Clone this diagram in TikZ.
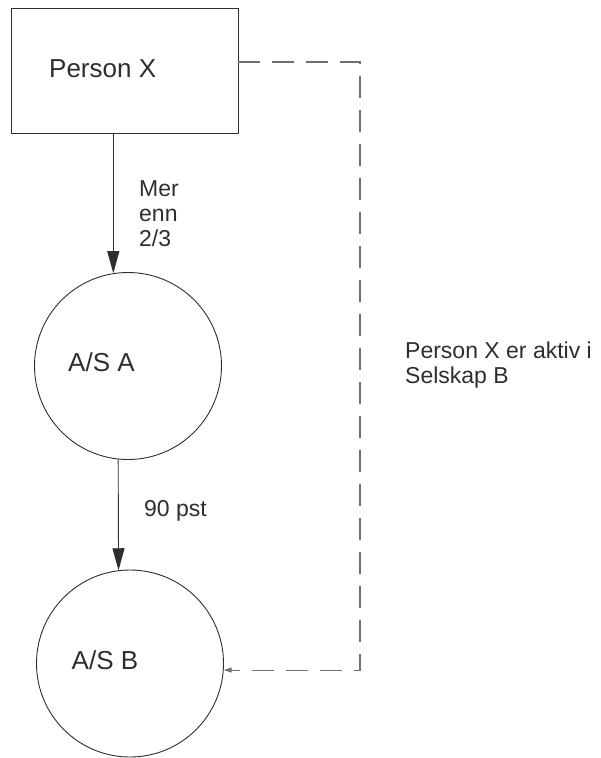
\documentclass[tikz,border=0pt]{standalone}
\usepackage{fontspec}
\setmainfont{Liberation Sans}
\usetikzlibrary{arrows.meta}
\definecolor{ink}{HTML}{2E2E2E}
\definecolor{dash}{HTML}{707070}
\tikzset{
  shapeline/.style={draw=ink, line width=0.9pt},
  ownerbox/.style={shapeline, rectangle, minimum width=227pt, minimum height=125pt, inner sep=0pt},
  company/.style={shapeline, circle, minimum size=187pt, inner sep=0pt},
  bigtext/.style={anchor=base west, inner sep=0pt, font=\fontsize{26}{30}\selectfont, text=ink},
  smalltext/.style={anchor=base west, inner sep=0pt, align=left, font=\fontsize{23}{25}\selectfont, text=ink},
  owns/.style={draw=ink, line width=0.9pt, -{Triangle[length=22pt,width=12pt]}},
  link/.style={draw=dash, line width=1.1pt, dash pattern=on 22pt off 12pt, -{Triangle[length=8pt,width=5pt]}},
}
\begin{document}
\begin{tikzpicture}[x=1pt, y=-1pt]
  \useasboundingbox (0,0) rectangle (601,758);

  % entities
  \node[ownerbox] (px) at (124.5,70.5) {};
  \node[company] (A) at (128,366) {};
  \node[company] (B) at (130,663.5) {};

  % names inside the shapes
  \node[bigtext] (pxl) at (49,77.5) {Person X};
  \node[bigtext] (al) at (68,371.5) {A/S A};
  \node[bigtext] (bl) at (71.5,669.5) {A/S B};

  % ownership arrows
  \draw[owns] (px.south -| A.99) -- (A.99);
  \draw[owns] (A.264) -- (B.97);

  % ownership shares (multi-line nodes sit on the baseline of their last line)
  \node[smalltext] (s1) at (139,246.5) {Mer\\enn\\2/3};
  \node[smalltext] (s2) at (144,516.5) {90 pst};

  % activity link from Person X to A/S B
  \coordinate (c1) at (360,62);
  \draw[link] (px.east |- c1) -- (c1) |- (B.-4);

  \node[smalltext] (note) at (405,383) {Person X er aktiv i\\Selskap B};
\end{tikzpicture}
\end{document}
